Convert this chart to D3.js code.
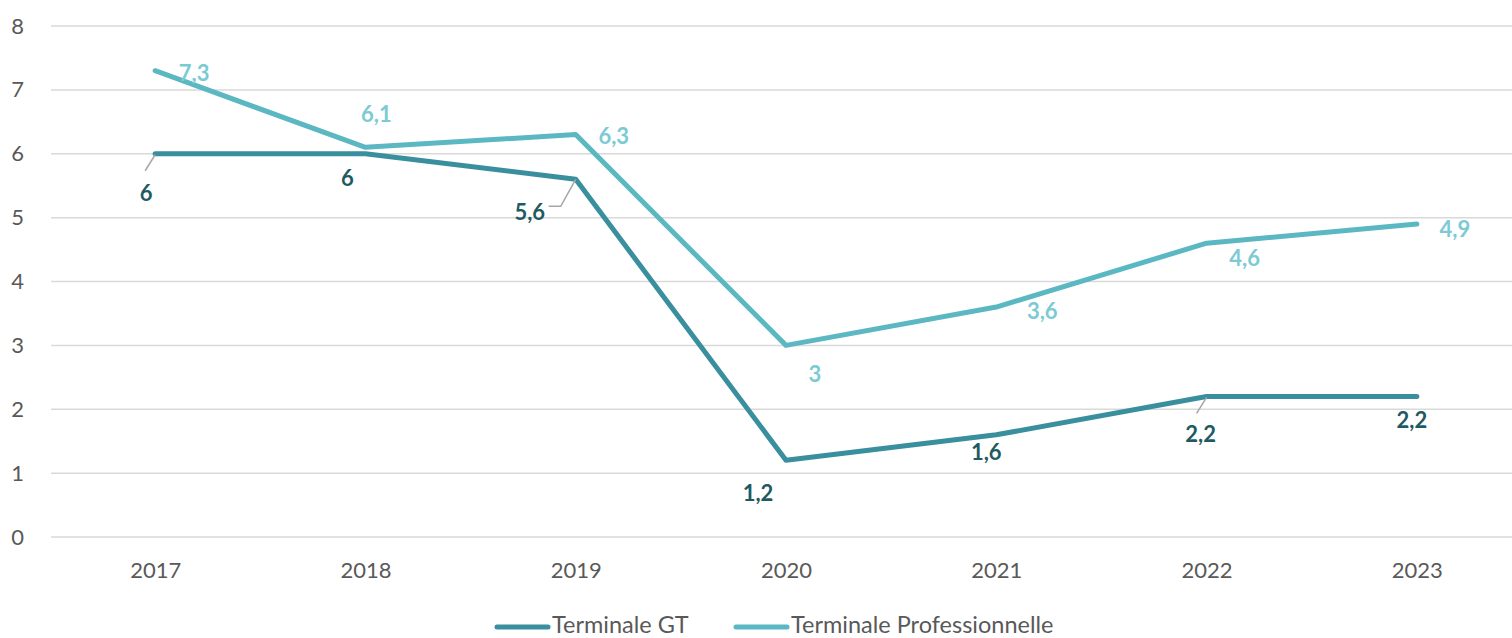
<!DOCTYPE html>
<html><head><meta charset="utf-8">
<script src="https://cdn.jsdelivr.net/npm/d3@7"></script>
<style>body{margin:0;background:#fff;}svg{display:block;}</style>
</head><body>
<svg id="c" width="1512" height="638"></svg>
<script>
const years = ["2017","2018","2019","2020","2021","2022","2023"];
const gtValues = [6, 6, 5.6, 1.2, 1.6, 2.2, 2.2];
const proValues = [7.3, 6.1, 6.3, 3, 3.6, 4.6, 4.9];
const yTicks = [0,1,2,3,4,5,6,7,8];
const seriesNames = ["Terminale GT", "Terminale Professionnelle"];

// label offsets (style)
const gtOff = [[-9,39],[-18,24],[-46,32],[-28,32],[-10,17],[-6,37],[-5,23]];
const proOff = [[39,2],[11,-34],[38,1],[29,28],[46,3],[38,14],[38,4]];

(function(){
const svg = d3.select("#c");
const W = 1512;
const mLeft = 50, mRight = 1522, mTop = 26, mBottom = 537;
const x = d3.scalePoint().domain(years).range([mLeft, mRight]).padding(0.5);
const y = d3.scaleLinear().domain([0,8]).range([mBottom, mTop]);

const font = "Lato, 'Open Sans', sans-serif";

// gridlines
svg.append("g").selectAll("line").data(yTicks).join("line")
  .attr("x1", 51).attr("x2", W).attr("y1", d=>y(d)).attr("y2", d=>y(d))
  .attr("stroke", "#d9d9d9").attr("stroke-width", 1.5);

// y axis labels
const yAxis = d3.axisLeft(y).tickValues(yTicks).tickSize(0).tickPadding(0).tickFormat(d3.format("d"));
const ya = svg.append("g").attr("transform", "translate(24,0)").call(yAxis);
ya.select(".domain").remove();
ya.selectAll("text").attr("font-family", font).attr("font-size", 22).attr("fill", "#595959");

// x axis labels
const xAxis = d3.axisBottom(x).tickSize(0).tickPadding(0);
const xa = svg.append("g").attr("transform", `translate(0,${mBottom+25})`).call(xAxis);
xa.select(".domain").remove();
xa.selectAll("text").attr("font-family", font).attr("font-size", 22).attr("fill", "#595959");

const line = d3.line().x((d,i)=>x(years[i])).y(d=>y(d));
const gtColor = "#3a8f9e", proColor = "#5bb8c3";
const gtLabel = "#1f5a62", proLabel = "#7ccad3";

svg.append("path").datum(proValues).attr("d", line).attr("fill","none")
  .attr("stroke", proColor).attr("stroke-width", 5).attr("stroke-linecap","round").attr("stroke-linejoin","round");
svg.append("path").datum(gtValues).attr("d", line).attr("fill","none")
  .attr("stroke", gtColor).attr("stroke-width", 5).attr("stroke-linecap","round").attr("stroke-linejoin","round");

const fmt = v => String(v).replace(".", ",");

// leaders for GT labels (index 0, 2, 5)
const leaderIdx = [0,2,5];
leaderIdx.forEach((i,k)=>{
  const px = x(years[i]), py = y(gtValues[i]);
  let pts;
  if (k===1) pts = [[px,py],[px-15,py+27],[px-27,py+27]];
  else pts = [[px,py+1],[px-10,py+17]];
  svg.append("path").attr("d", d3.line()(pts)).attr("fill","none")
    .attr("stroke","#a6a6a6").attr("stroke-width",1.5);
});

svg.append("g").selectAll("text").data(gtValues).join("text")
  .attr("x",(d,i)=>x(years[i])+gtOff[i][0]).attr("y",(d,i)=>y(d)+gtOff[i][1])
  .attr("text-anchor","middle").attr("dominant-baseline","central")
  .attr("font-family",font).attr("font-weight","bold").attr("font-size",22)
  .attr("fill",gtLabel).text(fmt);

svg.append("g").selectAll("text").data(proValues).join("text")
  .attr("x",(d,i)=>x(years[i])+proOff[i][0]).attr("y",(d,i)=>y(d)+proOff[i][1])
  .attr("text-anchor","middle").attr("dominant-baseline","central")
  .attr("font-family",font).attr("font-weight","bold").attr("font-size",22)
  .attr("fill",proLabel).text(fmt);

// legend
const legX = [497, 736];
const legColors = [gtColor, proColor];
seriesNames.forEach((n,i)=>{
  svg.append("line").attr("x1",legX[i]).attr("x2",legX[i]+51).attr("y1",627).attr("y2",627)
    .attr("stroke",legColors[i]).attr("stroke-width",5).attr("stroke-linecap","round");
  svg.append("text").attr("x",legX[i]+55).attr("y",624).attr("dominant-baseline","central")
    .attr("font-family",font).attr("font-size",23.5).attr("fill","#595959").text(n);
});
})();
</script>
</body></html>
